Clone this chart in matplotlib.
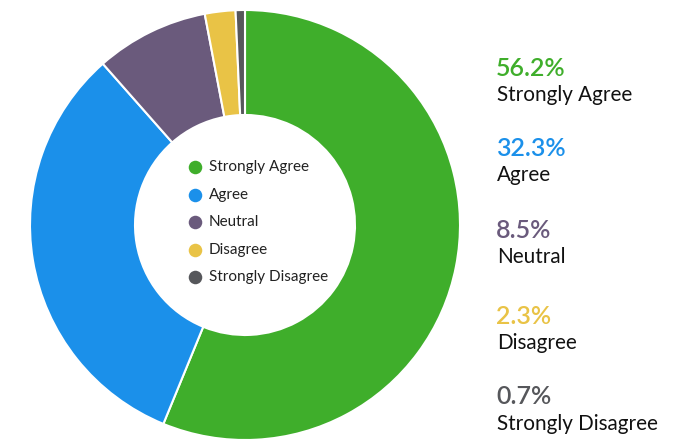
import matplotlib.pyplot as plt

plt.rcParams['font.family'] = ['Lato', 'DejaVu Sans']

categories = ['Strongly Agree', 'Agree', 'Neutral', 'Disagree', 'Strongly Disagree']
percents = [56.2, 32.3, 8.5, 2.3, 0.7]
colors = ['#3fae2b', '#1b90ea', '#6a5a7c', '#e9c346', '#56575b']

W, H = 696, 440
fig = plt.figure(figsize=(W / 100, H / 100), dpi=100)
ax = fig.add_axes([0, 0, 1, 1])

# donut, centre/radius in pixel units
cx, cy, r = 245, H - 225, 215
ax.pie(percents, colors=colors, startangle=90, counterclock=False,
       center=(cx, cy), radius=r, frame=True,
       wedgeprops=dict(width=105, edgecolor='white', linewidth=1.5))
ax.set_xlim(0, W)
ax.set_ylim(0, H)
ax.axis('off')

# legend inside the hole
leg_y = [167, 195, 222, 250, 277]
for name, col, y in zip(categories, colors, leg_y):
    ax.scatter([195], [H - y], s=95, color=col, zorder=5, linewidths=0)
    ax.text(209, H - y, name, fontsize=11, color='#222222', va='center', ha='left')

# value labels on the right
pct_y = [68, 148, 230, 316, 397]
for name, col, p, y in zip(categories, colors, percents, pct_y):
    ax.text(496, H - y, f'{p}%', fontsize=18, fontweight='semibold', color=col,
            va='center', ha='left')
    ax.text(497, H - y - 27, name, fontsize=14.9, color='#111111', va='center', ha='left')

fig.savefig('out.png', dpi=100)
